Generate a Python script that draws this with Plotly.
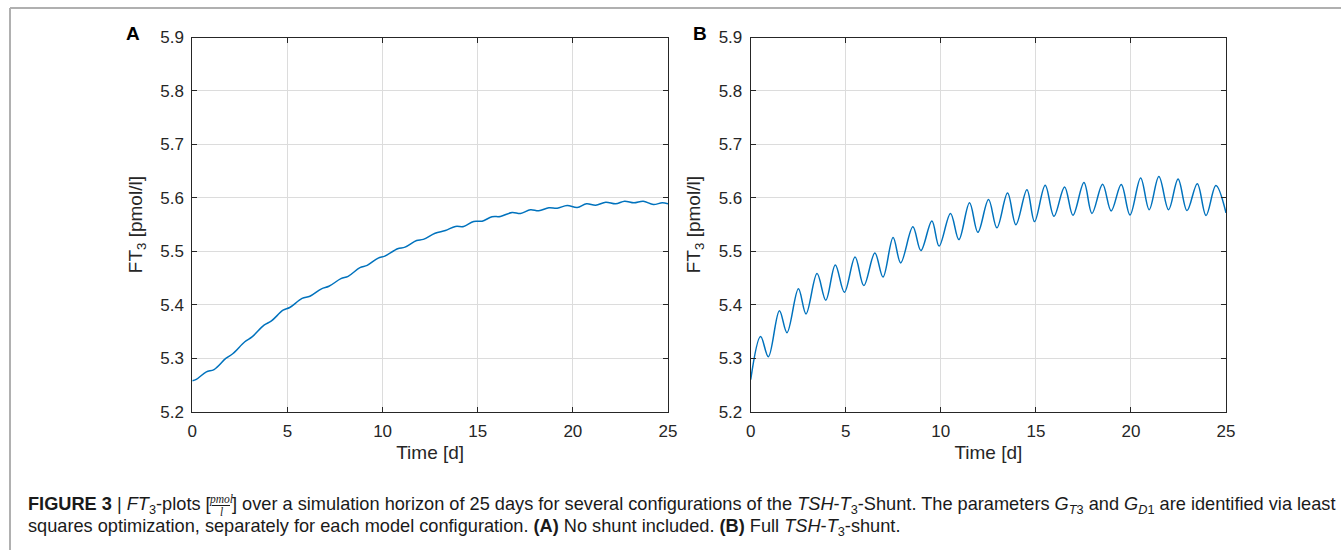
import plotly.graph_objects as go

# ---------------- data ----------------
time_a = [0, 0.21, 0.74, 1.14, 1.76, 2.14, 2.76, 3.14, 3.77, 4.16, 4.77, 5.12, 5.77, 6.18,
          6.79, 7.18, 7.81, 8.19, 8.81, 9.19, 9.77, 10.12, 10.79, 11.18, 11.79, 12.14, 12.76,
          13.30, 13.83, 14.26, 14.79, 15.23, 15.75, 16.19, 16.81, 17.25, 17.77, 18.21, 18.74,
          19.18, 19.70, 20.23, 20.72, 21.20, 21.73, 22.25, 22.72, 23.21, 23.70, 24.23, 24.70, 25]
ft3_a = [5.258, 5.2606, 5.2748, 5.279, 5.2998, 5.309, 5.331, 5.340, 5.362, 5.370, 5.390, 5.395,
         5.412, 5.416, 5.430, 5.4347, 5.449, 5.4534, 5.4696, 5.4739, 5.4875, 5.4912, 5.505,
         5.508, 5.5205, 5.5224, 5.534, 5.539, 5.5466, 5.5466, 5.556, 5.5565, 5.5647, 5.5653,
         5.5728, 5.5709, 5.5778, 5.5759, 5.5815, 5.5808, 5.5858, 5.582, 5.589, 5.5864, 5.592,
         5.589, 5.5938, 5.5908, 5.5938, 5.5877, 5.5908, 5.589]

time_b = [0, 0.52, 0.93, 1.51, 1.91, 2.51, 2.91, 3.49, 3.95, 4.45, 4.93, 5.49, 5.95, 6.53, 6.96,
          7.49, 7.89, 8.53, 8.95, 9.53, 9.91, 10.51, 10.95, 11.51, 11.95, 12.51, 12.95, 13.51,
          13.95, 14.53, 14.93, 15.49, 15.95, 16.51, 16.95, 17.53, 17.95, 18.51, 18.96, 19.49,
          19.95, 20.51, 20.96, 21.47, 21.98, 22.48, 22.95, 23.49, 23.95, 24.47, 25]
ft3_b = [5.260, 5.341, 5.303, 5.389, 5.348, 5.430, 5.383, 5.4585, 5.4086, 5.4747, 5.4236,
         5.4897, 5.436, 5.497, 5.452, 5.526, 5.4785, 5.546, 5.5015, 5.557, 5.510, 5.571, 5.522,
         5.591, 5.5357, 5.597, 5.544, 5.609, 5.550, 5.6155, 5.5557, 5.6236, 5.5656, 5.6206,
         5.5675, 5.6286, 5.571, 5.6254, 5.5757, 5.6249, 5.568, 5.6374, 5.578, 5.640, 5.578,
         5.6355, 5.5763, 5.6267, 5.567, 5.623, 5.572]

x_ticks = [0, 5, 10, 15, 20, 25]
y_ticks = [5.2, 5.3, 5.4, 5.5, 5.6, 5.7, 5.8, 5.9]
panel_labels = ["A", "B"]

# ---------------- figure ----------------
W, H = 1341, 550
FONT = "Liberation Sans, Arial, Helvetica, sans-serif"
AX = "#262626"
GRID = "#dcdcdc"
LINE = "#0072BD"

def px(x):
    return x / W

def py(y):
    return 1 - y / H

fig = go.Figure()
fig.add_trace(go.Scatter(x=time_a, y=ft3_a, mode="lines", line=dict(color=LINE, width=1.5, shape="spline"),
                         xaxis="x", yaxis="y", showlegend=False, hoverinfo="skip"))
fig.add_trace(go.Scatter(x=time_b, y=ft3_b, mode="lines", line=dict(color=LINE, width=1.5, shape="spline"),
                         xaxis="x2", yaxis="y2", showlegend=False, hoverinfo="skip"))

def xax(domain, anchor):
    return dict(domain=domain, anchor=anchor, range=[0, 25], tickvals=x_ticks,
                showline=True, linecolor=AX, linewidth=1, mirror="ticks",
                ticks="inside", ticklen=5, tickcolor=AX, showgrid=True, gridcolor=GRID, gridwidth=1,
                zeroline=False, tickfont=dict(family=FONT, size=17, color=AX), ticklabelstandoff=4,
                title=dict(text="Time [d]", font=dict(family=FONT, size=19, color=AX), standoff=5))

def yax(domain, anchor):
    return dict(domain=domain, anchor=anchor, range=[5.2, 5.9], tickvals=y_ticks, tickformat=".1f",
                showline=True, linecolor=AX, linewidth=1, mirror="ticks",
                ticks="inside", ticklen=5, tickcolor=AX, showgrid=True, gridcolor=GRID, gridwidth=1,
                zeroline=False, tickfont=dict(family=FONT, size=17, color=AX), ticklabelstandoff=4,
                title=dict(text="FT<sub>3</sub> [pmol/l]", font=dict(family=FONT, size=19, color=AX), standoff=12))

ydom = [py(411.8), py(37.5)]
fig.update_layout(
    width=W, height=H, margin=dict(l=0, r=0, t=0, b=0, autoexpand=False),
    paper_bgcolor="white", plot_bgcolor="white",
    xaxis=xax([px(192.3), px(668)], "y"),
    yaxis=yax(ydom, "x"),
    xaxis2=xax([px(750.7), px(1226)], "y2"),
    yaxis2=yax(ydom, "x2"),
)

# panel letters
for lab, xx in zip(panel_labels, [133, 699.5]):
    fig.add_annotation(text="<b>%s</b>" % lab, x=px(xx), y=py(33), xref="paper", yref="paper",
                       showarrow=False, xanchor="center", yanchor="middle",
                       font=dict(family=FONT, size=19, color="black"))

# frame lines
fig.add_shape(type="line", xref="paper", yref="paper", x0=px(10), x1=1, y0=py(8), y1=py(8),
              line=dict(color="#b0b0b0", width=2), layer="above")
fig.add_shape(type="line", xref="paper", yref="paper", x0=px(10), x1=px(10), y0=py(8), y1=0,
              line=dict(color="#b0b0b0", width=2), layer="above")

# caption
cap_font = dict(family=FONT, size=18.2, color="#1a1a1a")
seg1 = "<b>FIGURE 3</b> | <i>FT</i><sub>3</sub>-plots ["
seg2 = ("] over a simulation horizon of 25 days for several configurations of the "
        "<i>TSH</i>-<i>T</i><sub>3</sub>-Shunt. The parameters <i>G</i><sub><i>T</i>3</sub> and "
        "<i>G</i><sub><i>D</i>1</sub> are identified via least")
line2 = ("squares optimization, separately for each model configuration. <b>(A)</b> No shunt included. "
         "<b>(B)</b> Full <i>TSH</i>-<i>T</i><sub>3</sub>-shunt.")
common = dict(xref="paper", yref="paper", showarrow=False, yanchor="middle", font=cap_font, borderpad=0)
fig.add_annotation(text=seg1, x=px(27), y=py(505), xanchor="left", **common)
fig.add_annotation(text=seg2, x=px(231), y=py(505), xanchor="left", **common)
fig.add_annotation(text=line2, x=px(27), y=py(527), xanchor="left", **common)
# stacked fraction pmol / l
frac_font = dict(family="Liberation Serif, serif", size=11.5, color="#1a1a1a")
fig.add_annotation(text="<i>pmol</i>", x=px(221), y=py(499), xref="paper", yref="paper", showarrow=False,
                   xanchor="center", yanchor="middle", font=frac_font, borderpad=0)
fig.add_annotation(text="<i>l</i>", x=px(221), y=py(512), xref="paper", yref="paper", showarrow=False,
                   xanchor="center", yanchor="middle", font=frac_font, borderpad=0)
fig.add_shape(type="line", xref="paper", yref="paper", x0=px(212), x1=px(230), y0=py(505.5), y1=py(505.5),
              line=dict(color="#1a1a1a", width=1))

fig.write_html("out.html", config={"displayModeBar": False},
               post_script="document.body.style.margin='0px';")
